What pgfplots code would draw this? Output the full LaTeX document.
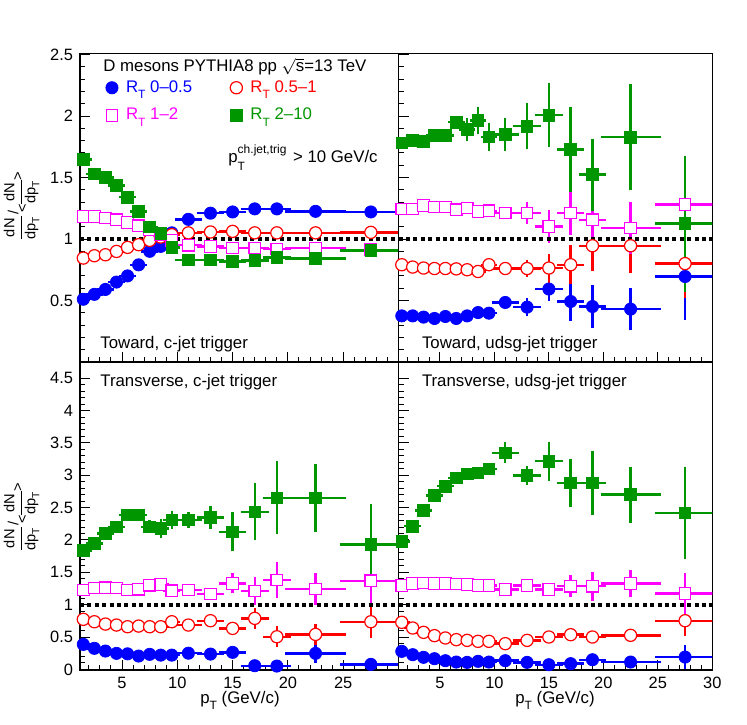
\documentclass[border=0pt]{standalone}
\usepackage{fontspec}
\setmainfont{Liberation Sans}
\usepackage{amsmath}
\usepackage{pgfplots}
\pgfplotsset{compat=1.18}
\usepackage{pgfplotstable}
\definecolor{rgreen}{RGB}{0,150,0}
\definecolor{rmag}{RGB}{255,0,255}
\definecolor{rblue}{RGB}{0,0,255}
\definecolor{rred}{RGB}{255,0,0}

% columns: x ex  blue eb  red er  magenta em  green eg
\pgfplotstableread{
x ex b eb r er m em g eg
1.5 0.5 0.51 0.01 0.845 0.01 1.184 0.01 1.646 0.01
2.5 0.5 0.55 0.01 0.864 0.01 1.184 0.01 1.528 0.01
3.5 0.5 0.59 0.01 0.872 0.01 1.171 0.01 1.500 0.01
4.5 0.5 0.65 0.01 0.899 0.01 1.157 0.01 1.435 0.01
5.5 0.5 0.70 0.01 0.932 0.01 1.135 0.01 1.340 0.01
6.5 0.5 0.79 0.01 0.954 0.01 1.108 0.01 1.225 0.01
7.5 0.5 0.90 0.01 0.989 0.01 1.078 0.01 1.100 0.01
8.5 0.5 0.94 0.01 1.016 0.01 1.035 0.01 1.045 0.01
9.5 0.5 1.05 0.01 1.035 0.01 0.990 0.01 0.930 0.01
11 1 1.16 0.01 1.050 0.01 0.950 0.01 0.831 0.01
13 1 1.21 0.01 1.057 0.01 0.940 0.02 0.831 0.02
15 1 1.22 0.01 1.062 0.01 0.927 0.02 0.818 0.02
17 1 1.245 0.01 1.050 0.02 0.927 0.02 0.825 0.02
19 1 1.245 0.02 1.050 0.02 0.918 0.02 0.850 0.03
22.5 2.5 1.225 0.02 1.050 0.02 0.927 0.02 0.840 0.03
27.5 2.5 1.22 0.02 1.054 0.02 0.913 0.03 0.907 0.03
}\tabTL

\pgfplotstableread{
x ex b eb r er m em g eg
1.5 0.5 0.375 0.01 0.791 0.01 1.244 0.01 1.782 0.01
2.5 0.5 0.375 0.01 0.772 0.01 1.244 0.01 1.803 0.01
3.5 0.5 0.365 0.01 0.764 0.01 1.271 0.01 1.795 0.01
4.5 0.5 0.354 0.01 0.760 0.01 1.260 0.01 1.841 0.02
5.5 0.5 0.370 0.01 0.760 0.01 1.260 0.01 1.841 0.02
6.5 0.5 0.354 0.01 0.757 0.01 1.238 0.01 1.950 0.03
7.5 0.5 0.375 0.01 0.750 0.01 1.252 0.01 1.890 0.07
8.5 0.5 0.402 0.01 0.736 0.01 1.225 0.01 1.963 0.087
9.5 0.5 0.397 0.01 0.791 0.01 1.230 0.01 1.830 0.09
11 1 0.484 0.02 0.760 0.02 1.212 0.02 1.849 0.11
13 1 0.446 0.05 0.760 0.05 1.212 0.07 1.917 0.165
15 1 0.593 0.075 0.764 0.095 1.103 0.11 2.007 0.24
17 1 0.492 0.135 0.791 0.135 1.212 0.157 1.727 0.32
19 1 0.451 0.15 0.945 0.18 1.157 0.19 1.524 0.27
22.5 2.5 0.430 0.15 0.945 0.20 1.090 0.19 1.828 0.41
27.5 2.5 0.695 0.33 0.800 0.26 1.279 0.35 1.125 0.53
}\tabTR

\pgfplotstableread{
x ex b eb r er m em g eg
1.5 0.5 0.386 0.01 0.773 0.01 1.226 0.01 1.840 0.02
2.5 0.5 0.325 0.01 0.736 0.01 1.256 0.01 1.947 0.02
3.5 0.5 0.283 0.01 0.700 0.01 1.260 0.01 2.100 0.02
4.5 0.5 0.247 0.01 0.685 0.01 1.256 0.01 2.200 0.02
5.5 0.5 0.240 0.01 0.659 0.01 1.226 0.01 2.385 0.02
6.5 0.5 0.206 0.01 0.669 0.01 1.240 0.01 2.385 0.03
7.5 0.5 0.232 0.01 0.659 0.01 1.300 0.01 2.204 0.06
8.5 0.5 0.220 0.01 0.659 0.01 1.310 0.02 2.179 0.10
9.5 0.5 0.220 0.01 0.736 0.02 1.215 0.02 2.308 0.10
11 1 0.250 0.02 0.685 0.02 1.226 0.03 2.308 0.08
13 1 0.236 0.02 0.752 0.04 1.164 0.04 2.349 0.14
15 1 0.263 0.02 0.633 0.03 1.329 0.11 2.127 0.26
17 1 0.056 0.03 0.788 0.12 1.210 0.17 2.436 0.40
19 1 0.051 0.03 0.504 0.12 1.380 0.23 2.652 0.52
22.5 2.5 0.247 0.10 0.540 0.12 1.241 0.20 2.652 0.48
27.5 2.5 0.077 0.03 0.736 0.21 1.370 0.30 1.932 0.58
}\tabBL

\pgfplotstableread{
x ex b eb r er m em g eg
1.5 0.5 0.278 0.01 0.727 0.01 1.294 0.01 1.979 0.02
2.5 0.5 0.227 0.01 0.639 0.01 1.325 0.01 2.211 0.02
3.5 0.5 0.186 0.01 0.572 0.01 1.335 0.01 2.454 0.02
4.5 0.5 0.165 0.01 0.521 0.01 1.325 0.01 2.686 0.02
5.5 0.5 0.134 0.01 0.485 0.01 1.325 0.01 2.830 0.02
6.5 0.5 0.113 0.01 0.459 0.01 1.320 0.01 2.959 0.02
7.5 0.5 0.108 0.01 0.448 0.01 1.309 0.01 3.020 0.03
8.5 0.5 0.124 0.01 0.433 0.01 1.294 0.01 3.036 0.03
9.5 0.5 0.113 0.01 0.433 0.01 1.294 0.02 3.098 0.05
11 1 0.134 0.01 0.397 0.02 1.232 0.02 3.345 0.12
13 1 0.108 0.01 0.448 0.02 1.294 0.04 2.995 0.11
15 1 0.072 0.02 0.500 0.03 1.232 0.04 3.216 0.26
17 1 0.088 0.02 0.536 0.04 1.284 0.13 2.881 0.33
19 1 0.149 0.03 0.500 0.04 1.284 0.18 2.881 0.45
22.5 2.5 0.113 0.03 0.526 0.04 1.325 0.17 2.700 0.39
27.5 2.5 0.190 0.14 0.752 0.20 1.170 0.28 2.418 0.67
}\tabBR

\pgfplotsset{
  rootaxis/.style={
    scale only axis, xmin=1.2, xmax=30, clip=true,
    axis line style={line width=0.6pt},
    tick align=inside, tick pos=left,
    major tick length=5pt, minor tick length=2.5pt,
    every tick/.style={black, line width=0.5pt},
    minor xtick={2,3,4,6,7,8,9,11,12,13,14,16,17,18,19,21,22,23,24,26,27,28,29},
    minor y tick num=4,
    tick label style={font=\fontsize{8.2}{9.8}\selectfont},
    /pgf/number format/assume math mode=true,
    legend image code/.code={\draw[#1] plot coordinates {(0pt,0pt)};},
  },
  toppanel/.style={rootaxis, ymin=0, ymax=2.51, height=154.35pt,
    ytick={0,0.5,1,1.5,2,2.5}, xticklabels={}},
  botpanel/.style={rootaxis, ymin=-0.01, ymax=4.75, height=154pt,
    ytick={0,0.5,1,1.5,2,2.5,3,3.5,4,4.5}},
  leftpanel/.style={width=159.25pt, xtick={5,10,15,20,25}},
  rightpanel/.style={width=156.9pt, xtick={5,10,15,20,25,30}, yticklabels={}},
  errs/.style={only marks,
    error bars/x dir=both, error bars/x explicit,
    error bars/y dir=both, error bars/y explicit,
    error bars/error bar style={line width=1.2pt},
    error bars/error mark options={line width=1.2pt, mark size=1.4pt}},
  sblue/.style={errs, color=rblue, mark=*, mark size=3.05pt, mark options={solid, fill=rblue, draw=rblue, line width=0.4pt}},
  sred/.style={errs, color=rred, mark=*, mark size=3.05pt, mark options={solid, fill=white, draw=rred, line width=0.6pt}},
  smag/.style={errs, color=rmag, mark=square*, mark size=2.9pt, mark options={solid, fill=white, draw=rmag, line width=0.6pt}},
  sgreen/.style={errs, color=rgreen, mark=square*, mark size=2.9pt, mark options={solid, fill=rgreen, draw=rgreen, line width=0.4pt}},
  unity/.style={forget plot, black, line width=2.1pt, dash pattern=on 2pt off 1.7pt},
}

\newcommand{\allseries}[1]{%
  \addplot[sblue]  table[x=x, y=b, x error=ex, y error=eb] {#1};
  \addplot[sred]   table[x=x, y=r, x error=ex, y error=er] {#1};
  \addplot[smag]   table[x=x, y=m, x error=ex, y error=em] {#1};
  \addplot[sgreen] table[x=x, y=g, x error=ex, y error=eg] {#1};
  \addplot[unity] coordinates {(1.2,1) (30,1)};
}

\newcommand{\subT}{\raisebox{-3.4pt}{\fontsize{6}{7}\selectfont T}}
\newcommand{\fr}{$\dfrac{\text{dN}}{\text{dp}_{\text{T}}}$}
\newcommand{\ylab}{{\fontsize{7.3}{8}\selectfont\fr\kern-0.6pt\raisebox{3.2pt}{/}\kern-0.8pt\raisebox{-1.2pt}{<}\kern-1.2pt\fr\kern-1.4pt\raisebox{1pt}{>}}}

\begin{document}
\begin{tikzpicture}[font=\fontsize{8.4}{10}\selectfont]
\useasboundingbox (0,0) rectangle (373.5pt,362pt);

% top left
\begin{axis}[toppanel, leftpanel, at={(40pt,181pt)}, anchor=south west,
  yticklabels={,0.5,1,1.5,2,2.5},
  legend columns=2, legend cell align=left,
  legend style={draw=none, fill=none, inner sep=0pt, row sep=4.5pt,
    at={(rel axis cs:0.080,0.920)}, anchor=north west,
    nodes={inner sep=1pt}, font=\fontsize{8.4}{10}\selectfont,
    /tikz/every odd column/.append style={column sep=3pt},
    /tikz/every even column/.append style={column sep=18pt}}]
  \allseries{\tabTL}
  \legend{\textcolor{rblue}{R\subT\ 0–0.5},\textcolor{rred}{R\subT\ 0.5–1},\textcolor{rmag}{R\subT\ 1–2},\textcolor{rgreen}{R\subT\ 2–10}}
\end{axis}

% top right
\begin{axis}[toppanel, rightpanel, at={(199.25pt,181pt)}, anchor=south west]
  \allseries{\tabTR}
\end{axis}

% bottom left
\begin{axis}[botpanel, leftpanel, at={(40pt,27pt)}, anchor=south west]
  \allseries{\tabBL}
\end{axis}

% bottom right
\begin{axis}[botpanel, rightpanel, at={(199.25pt,27pt)}, anchor=south west]
  \allseries{\tabBR}
\end{axis}

% texts
\node[anchor=base west, inner sep=0pt] at (51.5pt,326pt) {D mesons PYTHIA8 pp $\sqrt{\text{s}}$=13 TeV};
\node[anchor=base west, inner sep=0pt] at (114pt,280.5pt) {p\rlap{\raisebox{-3.6pt}{\fontsize{6}{7}\selectfont T}}\raisebox{4.6pt}{\fontsize{6}{7}\selectfont ch.jet,trig}\kern1pt\ > 10 GeV/c};
\node[anchor=base west, inner sep=0pt] at (50pt,187.8pt) {Toward, c-jet trigger};
\node[anchor=base west, inner sep=0pt] at (210.8pt,187.8pt) {Toward, udsg-jet trigger};
\node[anchor=base west, inner sep=0pt] at (50pt,168.7pt) {Transverse, c-jet trigger};
\node[anchor=base west, inner sep=0pt] at (210.8pt,168.7pt) {Transverse, udsg-jet trigger};
\node[anchor=base, inner sep=0pt] at (120pt,10.5pt) {p\subT\ (GeV/c)};
\node[anchor=base, inner sep=0pt] at (277.5pt,10.5pt) {p\subT\ (GeV/c)};
\node[rotate=90, inner sep=0pt] at (10.8pt,258.5pt) {\ylab};
\node[rotate=90, inner sep=0pt] at (10.8pt,103pt) {\ylab};
\end{tikzpicture}
\end{document}
